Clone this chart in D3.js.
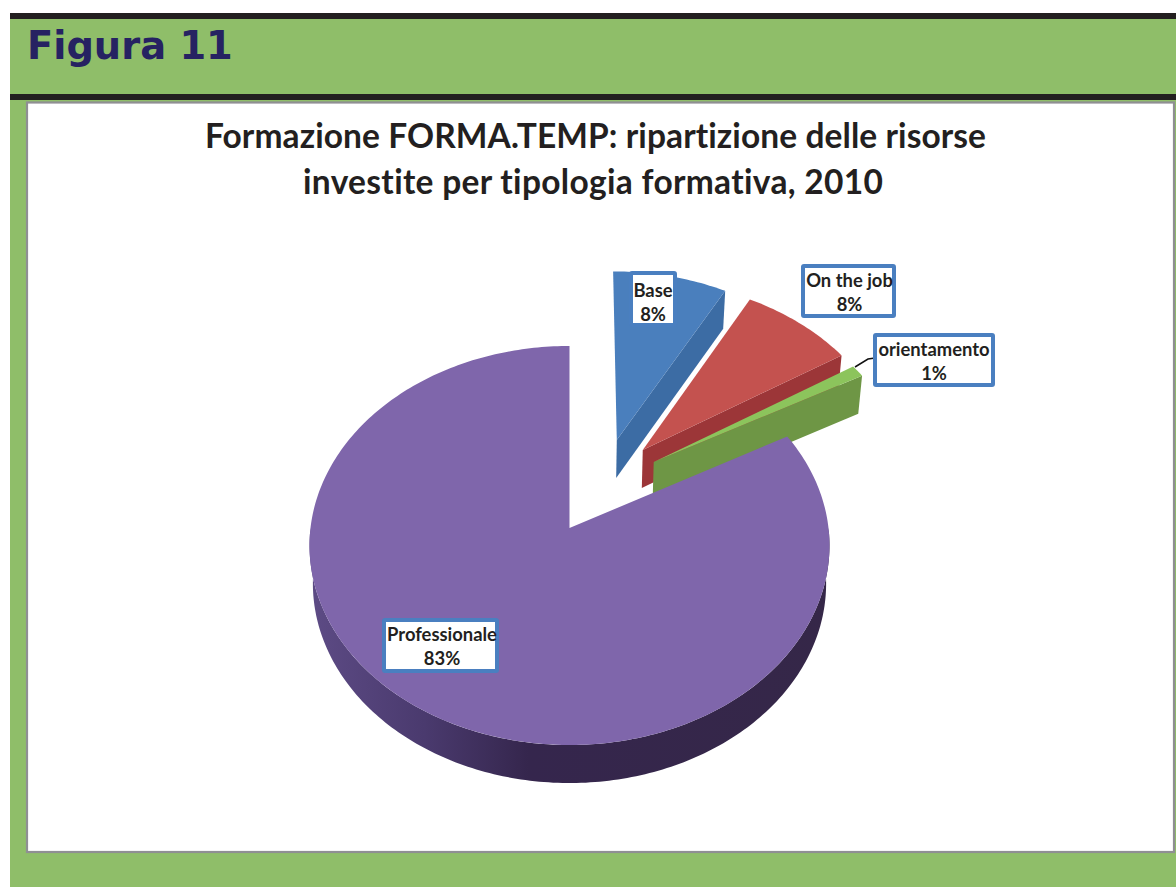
<!DOCTYPE html>
<html>
<head>
<meta charset="utf-8">
<script src="https://cdn.jsdelivr.net/npm/d3@7"></script>
<style>
  html, body { margin: 0; padding: 0; background: #fff; }
  svg { display: block; }
  text { font-variant-ligatures: none; }
</style>
</head>
<body>
<svg id="chart" width="1176" height="887"></svg>
<script>
const categories = ['Base', 'On the job', 'orientamento', 'Professionale']
const values = [8, 8, 1, 83]
const percentLabels = ['8%', '8%', '1%', '83%']
const titleLines = ['Formazione FORMA.TEMP: ripartizione delle risorse', 'investite per tipologia formativa, 2010']

const topColours = ['#4a7fbd', '#c4524f', '#8cc45c', '#7f66ab']
const wallColours = ['#3c6ca4', '#9c3638', '#6e9645', '#3a2a55']

// how far each slice is pulled out of the pie, in pie radius units
const explode = [[0.19, -0.462], [0.293, -0.408], [0.335, -0.343], [0, 0]]

// label boxes: left, top, width, height, text nudge x, text nudge y
const labelBoxes = [
    [631, 273, 44, 52, 0, 3],
    [803, 266, 91, 50, 1, 1],
    [875, 335, 118, 50, 0, 1],
    [384, 620, 113, 51, 1.5, 0]
]

// title line centre and width
const titleBoxes = [[595.5, 781], [593, 580]]

const svg = d3.select('#chart')

const cx = 569.5
const cy = 528
const radius = 259
const depth = 38
const tilt = 198
const perspective = 0.0877

const xScale = d3.scaleLinear().domain([-1, 1]).range([-radius, radius])
const yScale = d3.scaleLinear().domain([-1, 1]).range([-tilt, tilt])

// pie plane to screen, with lower = true for the bottom face
const project = (u, v, lower) => {
    const den = 1 - perspective * v
    const x = xScale(u) / den
    const y = yScale(v) / den
    return lower ? [cx + x * 0.987, cy + y + depth] : [cx + x, cy + y]
}

const rimPoints = (a0, a1, off, lower) => {
    const n = Math.max(2, Math.ceil((a1 - a0) * 60))
    return d3.range(n + 1).map(i => {
        const a = a0 + (a1 - a0) * i / n
        return project(off[0] + Math.sin(a), off[1] - Math.cos(a), lower)
    })
}

const line = d3.line()

// panel
svg.append('rect').attr('x', 10).attr('y', 13).attr('width', 1166).attr('height', 874).attr('fill', '#8fbe69')
svg.append('rect').attr('x', 10).attr('y', 13).attr('width', 1166).attr('height', 6).attr('fill', '#231f20')
svg.append('rect').attr('x', 10).attr('y', 94).attr('width', 1166).attr('height', 6).attr('fill', '#231f20')
svg.append('rect')
    .attr('x', 27).attr('y', 102.5).attr('width', 1147).attr('height', 749.5)
    .attr('fill', '#fff').attr('stroke', '#8f8f93').attr('stroke-width', 2.2)

svg.append('text')
    .attr('x', 27).attr('y', 59)
    .attr('font-family', 'DejaVu Sans').attr('font-weight', 700).attr('font-size', 38.4)
    .attr('fill', '#262262')
    .text('Figura 11')

svg.selectAll('.title')
    .data(titleLines)
    .join('text')
    .attr('class', 'title')
    .attr('x', (d, i) => titleBoxes[i][0]).attr('y', (d, i) => 148 + i * 46)
    .attr('text-anchor', 'middle')
    .attr('textLength', (d, i) => titleBoxes[i][1])
    .attr('lengthAdjust', 'spacing')
    .attr('font-family', 'Lato').attr('font-weight', 700).attr('font-size', 33.5)
    .attr('fill', '#231f20')
    .text(d => d)

// wall shading of the big slice
const defs = svg.append('defs')
const wallGradient = defs.append('linearGradient').attr('id', 'wallGradient')
    .attr('gradientUnits', 'userSpaceOnUse').attr('x1', 310).attr('x2', 830).attr('y1', 0).attr('y2', 0)
wallGradient.selectAll('stop')
    .data([[0, '#5d4b85'], [0.22, '#4a3a6e'], [0.42, '#35264d'], [1, '#352748']])
    .join('stop')
    .attr('offset', d => d[0])
    .attr('stop-color', d => d[1])

const slices = d3.pie().sort(null).value(d => d)(values)

slices.forEach((s, i) => {
    const off = explode[i]
    const top = rimPoints(s.startAngle, s.endAngle, off, false)
    const apexTop = project(off[0], off[1], false)
    const apexLow = project(off[0], off[1], true)
    const g = svg.append('g').attr('class', 'slice').attr('data-category', categories[i])

    if (i < 3) {
        // flat wall along the cut that looks at the viewer
        const endTop = top[top.length - 1]
        const endLow = rimPoints(s.startAngle, s.endAngle, off, true).pop()
        g.append('path')
            .attr('d', line([apexTop, endTop, endLow, apexLow]) + 'Z')
            .attr('fill', wallColours[i])
    } else {
        // curved wall, only the front half of the rim
        const a0 = Math.PI / 2
        const a1 = Math.PI * 1.5
        const upper = rimPoints(a0, a1, off, false)
        const lower = rimPoints(a0, a1, off, true).reverse()
        g.append('path')
            .attr('d', line(upper.concat(lower)) + 'Z')
            .attr('fill', 'url(#wallGradient)')
    }

    g.append('path')
        .attr('d', line([apexTop].concat(top)) + 'Z')
        .attr('fill', topColours[i])
})

// leader of the small slice
svg.append('path')
    .attr('d', line([[855, 367], [868, 359], [875, 358]]))
    .attr('fill', 'none').attr('stroke', '#111').attr('stroke-width', 1.5)

const labels = svg.selectAll('.label')
    .data(categories)
    .join('g')
    .attr('class', 'label')
    .attr('transform', (d, i) => `translate(${labelBoxes[i][0]},${labelBoxes[i][1]})`)

labels.append('rect')
    .attr('width', (d, i) => labelBoxes[i][2])
    .attr('height', (d, i) => labelBoxes[i][3])
    .attr('rx', 1)
    .attr('fill', '#fff')
    .attr('stroke', '#4a7fc0')
    .attr('stroke-width', 4)

labels.each(function (d, i) {
    const box = labelBoxes[i]
    const g = d3.select(this)
    const text = [d, percentLabels[i]]
    g.selectAll('text')
        .data(text)
        .join('text')
        .attr('x', box[2] / 2 + box[4])
        .attr('y', (t, j) => box[3] / 2 + box[5] - 12 + j * 24)
        .attr('text-anchor', 'middle')
        .attr('dominant-baseline', 'central')
        .attr('font-family', 'Lato').attr('font-weight', 700).attr('font-size', 18.4)
        .attr('fill', '#231f20')
        .text(t => t)
})
</script>
</body>
</html>
